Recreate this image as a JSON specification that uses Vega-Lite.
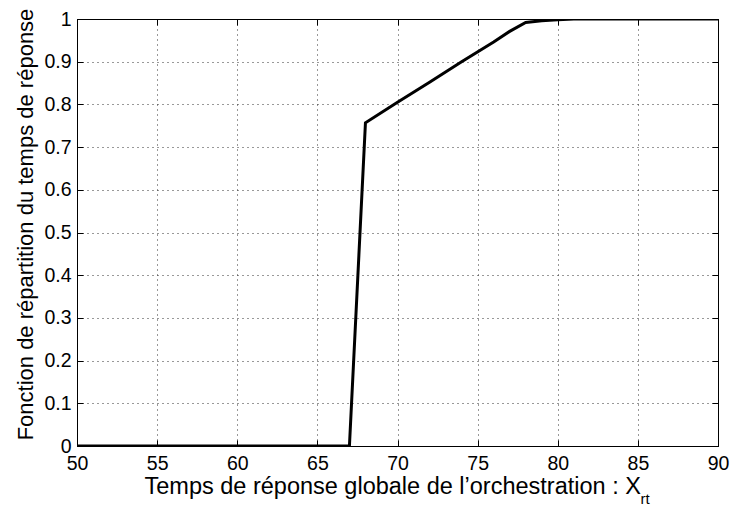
{
  "$schema": "https://vega.github.io/schema/vega-lite/v6.json",
  "width": 641,
  "height": 427,
  "autosize": {"type": "none"},
  "padding": {"left": 77, "top": 19, "right": 13, "bottom": 60},
  "background": "white",
  "config": {
    "font": "Liberation Sans",
    "view": {"stroke": "black", "strokeWidth": 1},
    "axis": {
      "labelFont": "Liberation Sans",
      "titleFont": "Liberation Sans",
      "labelColor": "black",
      "titleColor": "black",
      "labelFontSize": 19.5,
      "titleFontSize": 22,
      "titleFontWeight": "normal",
      "tickColor": "black",
      "tickSize": -6,
      "domainColor": "black",
      "gridColor": "#333",
      "gridDash": [1, 4],
      "gridWidth": 1
    }
  },
  "data": {
    "values": [
      {"t": 50, "F": 0},
      {"t": 67, "F": 0},
      {"t": 68, "F": 0.757},
      {"t": 70, "F": 0.805},
      {"t": 72, "F": 0.852},
      {"t": 74, "F": 0.9},
      {"t": 76, "F": 0.946},
      {"t": 77, "F": 0.971},
      {"t": 78, "F": 0.992},
      {"t": 79, "F": 0.996},
      {"t": 80, "F": 0.998},
      {"t": 81, "F": 1},
      {"t": 90, "F": 1}
    ]
  },
  "resolve": {"axis": {"x": "independent", "y": "independent"}},
  "layer": [
    {
      "mark": {"type": "line", "color": "black", "strokeWidth": 3, "clip": true},
      "encoding": {
        "x": {
          "field": "t", "type": "quantitative",
          "scale": {"domain": [50, 90], "nice": false, "zero": false},
          "axis": {
            "orient": "bottom",
            "values": [50, 55, 60, 65, 70, 75, 80, 85, 90],
            "grid": true,
            "labelPadding": 14,
            "labelFlush": false,
            "title": "Temps de réponse globale de l’orchestration : X",
            "titleFontSize": 23.5,
            "titleAnchor": "start",
            "titleAlign": "left",
            "titleX": 67,
            "titleY": 47,
            "titleBaseline": "alphabetic"
          }
        },
        "y": {
          "field": "F", "type": "quantitative",
          "scale": {"domain": [0, 1], "nice": false},
          "axis": {
            "orient": "left",
            "values": [0, 0.1, 0.2, 0.3, 0.4, 0.5, 0.6, 0.7, 0.8, 0.9, 1],
            "format": "~g",
            "grid": true,
            "labelPadding": 12,
            "labelFlush": false,
            "title": "Fonction de répartition du temps de réponse",
            "titleX": -45,
            "titleY": 205,
            "titleAngle": -90,
            "titleBaseline": "alphabetic",
            "titleAlign": "center"
          }
        }
      }
    },
    {
      "mark": {"type": "line", "opacity": 0},
      "encoding": {
        "x": {
          "field": "t", "type": "quantitative",
          "axis": {
            "orient": "top",
            "values": [50, 55, 60, 65, 70, 75, 80, 85, 90],
            "labels": false,
            "title": null,
            "grid": false
          }
        },
        "y": {
          "field": "F", "type": "quantitative",
          "axis": {
            "orient": "right",
            "values": [0, 0.1, 0.2, 0.3, 0.4, 0.5, 0.6, 0.7, 0.8, 0.9, 1],
            "labels": false,
            "title": null,
            "grid": false
          }
        }
      }
    },
    {
      "mark": {"type": "line", "opacity": 0},
      "encoding": {
        "x": {
          "field": "t", "type": "quantitative",
          "axis": {
            "orient": "bottom",
            "labels": false,
            "ticks": false,
            "domain": false,
            "grid": false,
            "title": "rt",
            "titleFontSize": 15,
            "titleAlign": "left",
            "titleX": 563,
            "titleY": 57,
            "titleBaseline": "alphabetic"
          }
        },
        "y": {"field": "F", "type": "quantitative", "axis": null}
      }
    }
  ]
}
